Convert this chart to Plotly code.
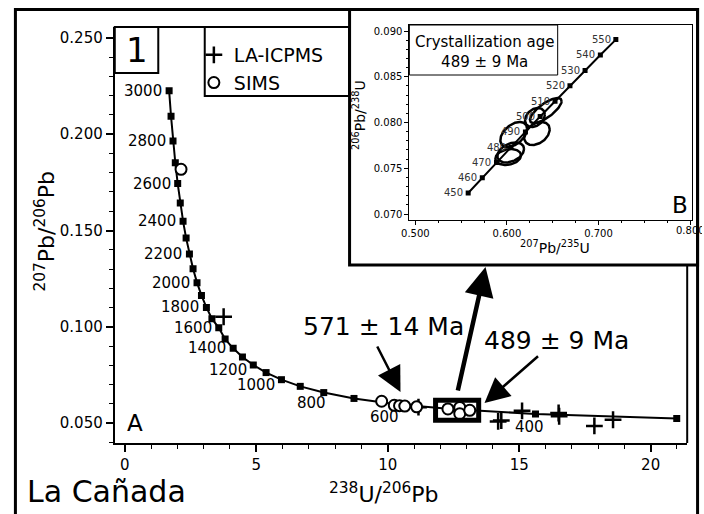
import numpy as np
import plotly.graph_objects as go

W, H = 704, 514
FONT = "DejaVu Sans"

# ---- Tera-Wasserburg concordia (main panel), 300-3000 Ma every 100 Ma ----
tw_age = [300, 400, 500, 600, 700, 800, 900, 1000, 1100, 1200, 1300, 1400,
          1500, 1600, 1700, 1800, 1900, 2000, 2100, 2200, 2300, 2400, 2500,
          2600, 2700, 2800, 2900, 3000]
tw_u238_pb206 = [20.992, 15.621, 12.399, 10.252, 8.718, 7.568, 6.674, 5.959,
                 5.375, 4.888, 4.476, 4.123, 3.817, 3.575, 3.314, 3.105, 2.917,
                 2.748, 2.597, 2.459, 2.333, 2.217, 2.111, 2.013, 1.922, 1.835,
                 1.760, 1.687]
tw_pb207_pb206 = [0.05233, 0.05470, 0.05722, 0.05990, 0.06276, 0.06580,
                  0.06904, 0.07250, 0.07619, 0.08012, 0.08432, 0.08881,
                  0.09360, 0.09942, 0.10419, 0.11004, 0.11629, 0.12292,
                  0.13015, 0.13782, 0.14604, 0.15484, 0.16426, 0.17437,
                  0.18520, 0.19646, 0.20929, 0.22265]

# ---- zircon analyses ----
la_u238_pb206 = [3.76, 11.17, 14.20, 14.32, 15.11, 16.50, 16.52, 17.86, 18.57]
la_pb207_pb206 = [0.1052, 0.0582, 0.0508, 0.0513, 0.0563, 0.0552, 0.0535,
                  0.0485, 0.0517]

sims_u238_pb206 = [2.14, 9.77, 10.25, 10.45, 10.65, 11.10, 12.29, 12.74, 12.74,
                   13.12]
sims_pb207_pb206 = [0.1818, 0.0613, 0.0592, 0.0590, 0.0588, 0.0584, 0.0573,
                    0.0581, 0.0548, 0.0566]

# ---- Wetherill concordia (inset), 450-550 Ma every 10 Ma ----
in_age = [450, 460, 470, 480, 490, 500, 510, 520, 530, 540, 550]
in_pb207_u235 = [0.5577, 0.5731, 0.5886, 0.6044, 0.6202, 0.6363, 0.6525,
                 0.6688, 0.6853, 0.7020, 0.7189]
in_pb206_u238 = [0.07230, 0.07397, 0.07563, 0.07730, 0.07897, 0.08065,
                 0.08233, 0.08401, 0.08569, 0.08738, 0.08906]

# ---- 2-sigma error ellipses of the 489 Ma population ----
ell_x = [0.6424, 0.6306, 0.6327, 0.6074, 0.6041, 0.6014]
ell_y = [0.08131, 0.08055, 0.07880, 0.07869, 0.07672, 0.07623]
ell_sx = [0.0173, 0.0108, 0.0140, 0.0146, 0.0146, 0.0140]
ell_sy = [0.00137, 0.00104, 0.00126, 0.00137, 0.00109, 0.00087]
ell_rho = [0.75, 0.30, 0.35, 0.45, 0.35, 0.20]


def px(x):
    return x / W


def py(y):
    return (H - y) / H


def ellipse(cx, cy, hx, hy, rho, n=120):
    t = np.linspace(0, 2 * np.pi, n)
    ex = cx + hx * np.cos(t)
    ey = cy + hy * (rho * np.cos(t) + np.sqrt(1 - rho ** 2) * np.sin(t))
    return ex, ey


fig = go.Figure()

# main panel
fig.add_trace(go.Scatter(
    x=tw_u238_pb206, y=tw_pb207_pb206, mode="lines+markers",
    line=dict(color="black", width=2),
    marker=dict(symbol="square", size=7, color="black"),
    showlegend=False, hoverinfo="skip", xaxis="x", yaxis="y"))
fig.add_trace(go.Scatter(
    x=la_u238_pb206, y=la_pb207_pb206, mode="markers", name="LA-ICPMS",
    marker=dict(symbol="cross-thin", size=12, color="black",
                line=dict(width=2.5, color="black")),
    xaxis="x", yaxis="y"))
fig.add_trace(go.Scatter(
    x=sims_u238_pb206, y=sims_pb207_pb206, mode="markers", name="SIMS",
    marker=dict(symbol="circle", size=11, color="white",
                line=dict(width=2, color="black")),
    xaxis="x", yaxis="y"))

# inset panel
fig.add_trace(go.Scatter(
    x=in_pb207_u235, y=in_pb206_u238, mode="lines+markers",
    line=dict(color="black", width=2),
    marker=dict(symbol="square", size=5, color="black"),
    showlegend=False, hoverinfo="skip", xaxis="x2", yaxis="y2"))
for cx, cy, sx, sy, r in zip(ell_x, ell_y, ell_sx, ell_sy, ell_rho):
    ex, ey = ellipse(cx, cy, sx, sy, r)
    fig.add_trace(go.Scatter(
        x=ex, y=ey, mode="lines", line=dict(color="black", width=2.5),
        showlegend=False, hoverinfo="skip", xaxis="x2", yaxis="y2"))

annotations = []


def tw_label_style(age):
    if age >= 1400:
        return dict(xanchor="right", yanchor="middle", xshift=-5, yshift=0)
    if age >= 1000:
        return dict(xanchor="right", yanchor="middle", xshift=-4, yshift=-5)
    shifts = {800: (-12, -10), 600: (-10, -13), 400: (-6, -13)}
    dx, dy = shifts[age]
    return dict(xanchor="center", yanchor="middle", xshift=dx, yshift=dy)


for age, xv, yv in zip(tw_age, tw_u238_pb206, tw_pb207_pb206):
    if age % 200 == 0:
        annotations.append(dict(
            x=xv, y=yv, xref="x", yref="y", text=str(age), showarrow=False,
            font=dict(family=FONT, size=15, color="black"),
            **tw_label_style(age)))

for age, xv, yv in zip(in_age, in_pb207_u235, in_pb206_u238):
    annotations.append(dict(
        x=xv, y=yv, xref="x2", yref="y2", text=str(age), showarrow=False,
        xanchor="right", yanchor="middle", xshift=-3,
        font=dict(family=FONT, size=10, color="#333333")))


def text(x, y, s, size, **kw):
    d = dict(x=px(x), y=py(y), xref="paper", yref="paper", text=s,
             showarrow=False, font=dict(family=FONT, size=size, color="black"),
             xanchor="center", yanchor="middle")
    d.update(kw)
    annotations.append(d)


def arrow(tip, tail, width, size):
    annotations.append(dict(
        x=px(tip[0]), y=py(tip[1]), xref="paper", yref="paper", text="",
        showarrow=True, ax=tail[0] - tip[0], ay=tail[1] - tip[1],
        arrowhead=2, arrowwidth=width, arrowsize=size, arrowcolor="black",
        standoff=0, startstandoff=0))


text(380, 326, "571 ± 14 Ma", 25)
text(555, 340, "489 ± 9 Ma", 25)
text(17, 491, "La Cañada", 30, xanchor="left")
text(130, 50, "1", 34)
text(128, 423, "A", 23)
text(680, 205, "B", 23)
text(380, 493, "<sup>238</sup>U/<sup>206</sup>Pb", 22)
text(37, 231, "<sup>207</sup>Pb/<sup>206</sup>Pb", 22, textangle=-90)
text(553, 247, "<sup>207</sup>Pb/<sup>235</sup>U", 14)
text(355, 115, "<sup>206</sup>Pb/<sup>238</sup>U", 14, textangle=-90)
text(482, 52, "Crystallization age<br>489 ± 9 Ma", 15)
# last inset tick label, cut by the figure frame
text(674, 231, "0.800", 10, xanchor="left", align="left", width=26)

arrow((483, 267), (455, 392), 4.5, 1.3)
arrow((397, 392), (373, 345), 2.5, 2.0)
arrow((482, 403), (537, 355), 2.5, 2.0)

shapes = [
    # inset panel background and frame
    dict(type="rect", xref="paper", yref="paper", x0=px(345.5), x1=px(697.5),
         y0=py(265), y1=py(9.5), fillcolor="white",
         line=dict(color="black", width=3), layer="below"),
    # upper and right edges of the main frame left uncovered by the inset
    dict(type="line", xref="paper", yref="paper", x0=px(108), x1=px(345),
         y0=py(27), y1=py(27), line=dict(color="black", width=2)),
    dict(type="line", xref="paper", yref="paper", x0=px(687), x1=px(687),
         y0=py(443), y1=py(265), line=dict(color="black", width=2)),
    # panel number box and legend box
    dict(type="rect", xref="paper", yref="paper", x0=px(108), x1=px(152),
         y0=py(73), y1=py(27), line=dict(color="black", width=2)),
    dict(type="rect", xref="paper", yref="paper", x0=px(199), x1=px(345),
         y0=py(96), y1=py(27), line=dict(color="black", width=2)),
    # age box in the inset
    dict(type="rect", xref="paper", yref="paper", x0=px(406), x1=px(556),
         y0=py(75), y1=py(25), line=dict(color="black", width=1)),
    # box around the 489 Ma population
    dict(type="rect", xref="x", yref="y", x0=11.82, x1=13.46,
         y0=0.0514, y1=0.0618, line=dict(color="black", width=5)),
    # outer figure frame
    dict(type="rect", xref="paper", yref="paper", x0=px(7.5), x1=px(697.5),
         y0=-0.05, y1=py(9.5), line=dict(color="black", width=3),
         layer="above"),
]

tick_font = dict(family=FONT, size=15, color="black")
small_font = dict(family=FONT, size=10, color="black")

fig.update_layout(
    width=W, height=H, margin=dict(l=0, r=0, t=0, b=0),
    paper_bgcolor="white", plot_bgcolor="rgba(0,0,0,0)",
    font=dict(family=FONT, color="black"),
    showlegend=True,
    legend=dict(x=px(188), y=py(36), xanchor="left", yanchor="top",
                bgcolor="rgba(0,0,0,0)", borderwidth=0,
                font=dict(family=FONT, size=19, color="black"),
                tracegroupgap=0, itemsizing="trace"),
    xaxis=dict(domain=[px(108), px(687)], range=[-0.38, 21.39], anchor="y",
               tick0=0, dtick=5, ticks="outside", ticklen=7, tickwidth=1.5,
               tickcolor="black", showline=True, linewidth=2,
               linecolor="black", showgrid=False, zeroline=False,
               tickfont=tick_font,
               minor=dict(dtick=1, ticks="outside", ticklen=4, tickwidth=1,
                          tickcolor="black", showgrid=False)),
    yaxis=dict(domain=[py(443), py(27)], range=[0.03961, 0.25571],
               anchor="x", tick0=0, dtick=0.05, tickformat=".3f",
               ticks="outside", ticklen=7, tickwidth=1.5, tickcolor="black",
               showline=True, linewidth=2, linecolor="black", showgrid=False,
               zeroline=False, tickfont=tick_font,
               minor=dict(dtick=0.01, ticks="outside", ticklen=4,
                          tickwidth=1, tickcolor="black", showgrid=False)),
    xaxis2=dict(domain=[px(406), px(692)], range=[0.4935, 0.8022],
                anchor="y2", tick0=0, dtick=0.1, tickformat=".3f",
                ticks="outside", ticklen=4, tickwidth=1, tickcolor="black",
                showline=True, mirror=True, linewidth=1, linecolor="black",
                showgrid=False, zeroline=False, tickfont=small_font,
                minor=dict(dtick=0.025, ticks="outside", ticklen=2,
                           tickcolor="black", showgrid=False)),
    yaxis2=dict(domain=[py(220), py(25)], range=[0.069344, 0.090656],
                anchor="x2", tick0=0, dtick=0.005, tickformat=".3f",
                ticks="outside", ticklen=4, tickwidth=1, tickcolor="black",
                showline=True, mirror=True, linewidth=1, linecolor="black",
                showgrid=False, zeroline=False, tickfont=small_font,
                minor=dict(dtick=0.001, ticks="outside", ticklen=2,
                           tickcolor="black", showgrid=False)),
    annotations=annotations,
    shapes=shapes,
)

fig.write_html("out.html")
